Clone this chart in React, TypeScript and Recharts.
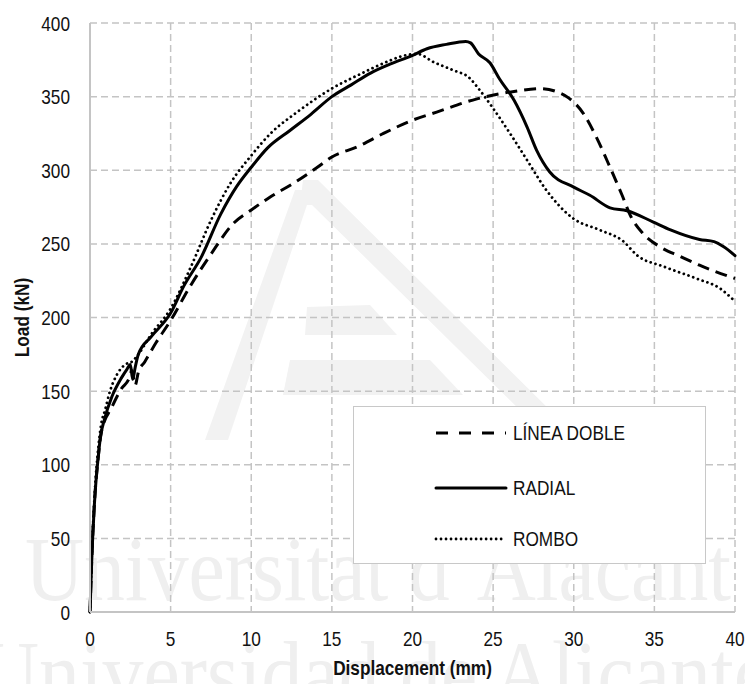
import React from 'react'
import { LineChart, Line, XAxis, YAxis, CartesianGrid, Legend } from 'recharts'

// displacement (mm) -> load (kN)
const dobleX = [0, 0.1, 0.3, 0.5, 0.72, 1.35, 1.97, 2.4, 2.6, 2.8, 3.0, 3.4, 4.1, 5, 6.2, 7.5, 8.9, 10, 11.2, 12.6, 14.1, 15, 16.6, 18.2, 20, 21.5, 24, 26.3, 27.9, 28.9, 29.7, 30.6, 31.4, 32.25, 33, 33.5, 34.3, 35.35, 36.6, 37.8, 40]
const dobleY = [0, 33, 78, 104, 123, 139, 152, 158, 164, 154, 163, 170, 183, 198, 221, 243, 264, 273, 282, 291, 302, 309, 316, 325, 334, 339.5, 348.5, 353.5, 355.5, 353.5, 349, 338.5, 322.5, 302, 283, 269.5, 257, 248, 241.5, 235.5, 226.5]

const radialX = [0, 0.1, 0.3, 0.5, 0.65, 0.9, 1.35, 1.95, 2.3, 2.5, 2.65, 2.8, 3.0, 3.8, 5, 5.8, 6.9, 8.1, 9.1, 10, 11, 12.4, 13.7, 15, 16.2, 17.4, 18.6, 20, 20.9, 22.1, 23.3, 23.6, 24.1, 24.8, 25.4, 26.3, 27.1, 27.7, 28.5, 30, 31, 32.25, 33.3, 34.9, 36, 37.8, 38.7, 39.3, 40]
const radialY = [0, 33, 78, 104, 119, 131, 146, 159, 165, 168, 158, 166, 175, 187, 203, 221, 241, 270, 289, 302, 315, 327, 338, 350, 358, 366, 372, 378, 382.5, 385.5, 387.5, 386.5, 379, 373, 362, 347.5, 329.5, 313.5, 299, 288.5, 283, 274.5, 272.5, 265, 259.5, 253, 251.5, 248, 242]

const romboX = [0, 0.1, 0.3, 0.5, 0.7, 0.93, 1.24, 1.66, 2.17, 2.6, 3.0, 3.76, 5, 6.24, 7.5, 8.7, 10, 11.2, 12.85, 15, 16.6, 18.6, 19.2, 20.3, 21.3, 22.5, 23.5, 24.2, 25, 26.05, 27.1, 28.3, 30, 31.6, 33.1, 33.9, 35.6, 37.6, 39.1, 39.9]
const romboY = [0, 35, 82, 110, 128, 137, 150, 161, 168, 170, 175, 188, 206, 234, 266, 291, 310, 325, 339.5, 355.5, 364.5, 374.5, 377, 379, 373.5, 368, 363, 354, 342, 325, 307, 286.5, 267, 259.5, 251.5, 242.5, 234.5, 226.5, 219.5, 212]

const xTicks = [0, 5, 10, 15, 20, 25, 30, 35, 40]
const yTicks = [0, 50, 100, 150, 200, 250, 300, 350, 400]

const toPoints = (xs: number[], ys: number[]) => xs.map((x, i) => ({ x, y: ys[i] }))

const series = [
  { name: 'LÍNEA DOBLE', data: toPoints(dobleX, dobleY), dash: '12 7', legendDash: '12 11', width: 3, cap: 'butt' as const },
  { name: 'RADIAL', data: toPoints(radialX, radialY), dash: undefined, legendDash: undefined, width: 3, cap: 'round' as const },
  { name: 'ROMBO', data: toPoints(romboX, romboY), dash: '0.01 5', legendDash: '0.01 5', width: 2.8, cap: 'round' as const },
]

const FONT = "'Liberation Sans', Arial, sans-serif"
const NARROW = 0.82 // squeeze to look like Arial Narrow
const GRID = '#c4c4c4'
const INK = '#111'

// narrow text drawn in svg
function NarrowText({ x, y, anchor, bold, children, dy }: any) {
  return (
    <text transform={`translate(${x},${y}) scale(${NARROW},1)`} textAnchor={anchor} dy={dy}
      fontFamily={FONT} fontSize={21} fontWeight={bold ? 'bold' : 'normal'} fill={INK}>{children}</text>
  )
}

const XTick = ({ x, y, payload }: any) => <NarrowText x={x} y={y} anchor="middle" dy="0.71em">{payload.value}</NarrowText>
const YTick = ({ x, y, payload }: any) => <NarrowText x={x} y={y} anchor="end" dy="0.36em">{payload.value}</NarrowText>

function LegendBox() {
  return (
    <div style={{
      width: 353, height: 158, boxSizing: 'border-box', border: '1px solid #c8c8c8',
      background: '#fff', position: 'relative', fontFamily: FONT, fontSize: 21, color: INK,
    }}>
      {series.map((s, i) => {
        const cy = [26, 81, 132][i]
        return (
          <div key={s.name} style={{ position: 'absolute', left: 0, top: cy - 14, height: 28, display: 'flex', alignItems: 'center' }}>
            <svg width={159} height={28} style={{ display: 'block' }}>
              <line x1={82} x2={152} y1={14} y2={14} stroke="#000" strokeWidth={s.width}
                strokeDasharray={s.legendDash} strokeLinecap={s.cap} />
            </svg>
            <span style={{ whiteSpace: 'nowrap', display: 'inline-block', transform: `scaleX(${NARROW})`, transformOrigin: 'left center' }}>{s.name}</span>
          </div>
        )
      })}
    </div>
  )
}

function Watermark() {
  const c = '#f2f2f2'
  const serif = "'Liberation Serif', 'DejaVu Serif', serif"
  return (
    <svg width={745} height={684} style={{ position: 'absolute', left: 0, top: 0 }}>
      <polygon points="303,180 318,180 560,420 530,420 312,205 300,205" fill={c} />
      <polygon points="295,190 312,190 228,440 205,440" fill={c} />
      <polygon points="307,307 370,305 397,335 305,335" fill={c} />
      <polygon points="290,360 430,360 463,395 283,395" fill={c} />
      <text x={25} y={600} fontFamily={serif} fontSize={92}
        fill="#efefef" textLength={706} lengthAdjust="spacingAndGlyphs">Universitat d’Alacant</text>
      <text x={-20} y={704} fontFamily={serif} fontSize={92}
        fill="#efefef" textLength={790} lengthAdjust="spacingAndGlyphs">Universidad de Alicante</text>
    </svg>
  )
}

export default function App() {
  return (
    <div style={{ position: 'absolute', left: 0, top: 0, width: 745, height: 684, background: '#fff' }}>
      <Watermark />
      <div style={{ position: 'absolute', left: 0, top: 0 }}>
        <LineChart width={745} height={684} margin={{ top: 23, right: 10, left: 0, bottom: 0 }}>
          <CartesianGrid stroke={GRID} strokeWidth={1.5} strokeDasharray="7 4" />
          <XAxis dataKey="x" type="number" domain={[0, 40]} ticks={xTicks} height={72}
            axisLine={{ stroke: GRID, strokeWidth: 2 }} tickLine={false} tickSize={0} tickMargin={19}
            tick={<XTick />}
            label={() => <NarrowText x={412.5} y={675} anchor="middle" bold>Displacement (mm)</NarrowText>} />
          <YAxis type="number" domain={[0, 400]} ticks={yTicks} width={90}
            axisLine={{ stroke: GRID, strokeWidth: 2 }} tickLine={false} tickSize={0} tickMargin={20}
            tick={<YTick />}
            label={() => (
              <g transform="translate(29,317.5) rotate(-90)">
                <NarrowText x={0} y={0} anchor="middle" bold>Load (kN)</NarrowText>
              </g>
            )} />
          <Legend layout="vertical" align="center" verticalAlign="middle" content={() => <LegendBox />}
            wrapperStyle={{ position: 'absolute', left: 353, top: 406, width: 353, height: 158 }} />
          {series.map(s => (
            <Line key={s.name} data={s.data} dataKey="y" name={s.name} type="monotone"
              stroke="#000" strokeWidth={s.width} strokeDasharray={s.dash} strokeLinecap={s.cap}
              dot={false} activeDot={false} isAnimationActive={false} />
          ))}
        </LineChart>
      </div>
    </div>
  )
}
